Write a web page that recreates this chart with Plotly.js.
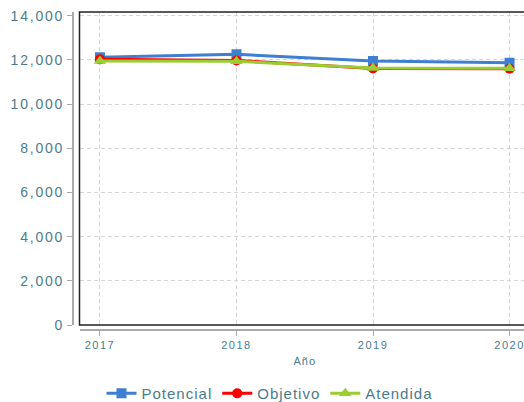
<!DOCTYPE html>
<html>
<head>
<meta charset="utf-8">
<script src="https://cdn.plot.ly/plotly-3.0.1.min.js"></script>
<style>
html,body{margin:0;padding:0;overflow:hidden;background:#fff;width:524px;height:402px;}
#chart{width:560px;height:402px;}
.ytick text{letter-spacing:1.8px;}
.xtick text{letter-spacing:1.5px;}
.legendtext{letter-spacing:1px;}
.g-xtitle text{letter-spacing:1px;}
</style>
</head>
<body>
<div id="chart"></div>
<script>
const years = [2017, 2018, 2019, 2020];
const potencial = [12120, 12250, 11950, 11870];
const objetivo = [12020, 11970, 11605, 11595];
const atendida = [11950, 11930, 11630, 11620];
const yTicks = [0, 2000, 4000, 6000, 8000, 10000, 12000, 14000];

const textColor = '#4a7c8c';
const font = {family: '"Liberation Sans", Arial, sans-serif', color: textColor};

const traces = [
  {x: years, y: potencial, name: 'Potencial', type: 'scatter', mode: 'lines+markers',
   line: {color: '#3f7fd3', width: 3}, marker: {symbol: 'square', size: 10, color: '#3f7fd3'}},
  {x: years, y: objetivo, name: 'Objetivo', type: 'scatter', mode: 'lines+markers',
   line: {color: '#ff0000', width: 3}, marker: {symbol: 'circle', size: 10, color: '#ff0000'}},
  {x: years, y: atendida, name: 'Atendida', type: 'scatter', mode: 'lines+markers',
   line: {color: '#9acd32', width: 3}, marker: {symbol: 'triangle-up', size: 11, color: '#9acd32'}}
];

const W = 560, H = 402, L = 73, R = 30, T = 12, B = 72;
const pw = W - L - R, ph = H - T - B;
const xd0 = (79.5 - L) / pw;
const yd0 = 5 / ph;

const layout = {
  width: W, height: H,
  margin: {l: L, r: R, t: T, b: B, pad: 0, autoexpand: false},
  paper_bgcolor: '#fff', plot_bgcolor: '#fff',
  font: font,
  showlegend: true,
  legend: {orientation: 'h', x: 0.43, xanchor: 'center', y: -0.2, yanchor: 'middle',
           font: {family: font.family, size: 15, color: textColor}, itemgap: 0,
           bgcolor: 'rgba(0,0,0,0)'},
  xaxis: {
    domain: [xd0, 1], anchor: 'free', position: 0, automargin: false,
    range: [2016.85, 2020.15], tickvals: years, ticktext: years.map(String),
    showline: true, linecolor: '#aaa', linewidth: 2,
    ticks: 'outside', ticklen: 5, tickcolor: '#aaa', tickwidth: 1,
    showgrid: true, gridcolor: '#d6d6d6', griddash: '4px,3px', gridwidth: 1,
    zeroline: false,
    tickfont: {family: font.family, size: 11, color: textColor},
    title: {text: 'Año', font: {family: font.family, size: 11, color: textColor}, standoff: 6}
  },
  yaxis: {
    domain: [yd0, 1], anchor: 'free', position: 0, automargin: false,
    range: [0, 14163], tickvals: yTicks, tickformat: ',d',
    showline: true, linecolor: '#aaa', linewidth: 2,
    ticks: 'outside', ticklen: 5, tickcolor: '#aaa', tickwidth: 1,
    showgrid: true, gridcolor: '#d6d6d6', griddash: '4px,3px', gridwidth: 1,
    zeroline: false,
    tickfont: {family: font.family, size: 14, color: textColor}
  },
  shapes: [
    {type: 'rect', xref: 'paper', yref: 'paper', x0: xd0, x1: 1, y0: yd0, y1: 1,
     line: {color: '#222', width: 1.5}, fillcolor: 'rgba(0,0,0,0)', layer: 'above'}
  ]
};

Plotly.newPlot('chart', traces, layout, {displayModeBar: false, staticPlot: true});
</script>
</body>
</html>
